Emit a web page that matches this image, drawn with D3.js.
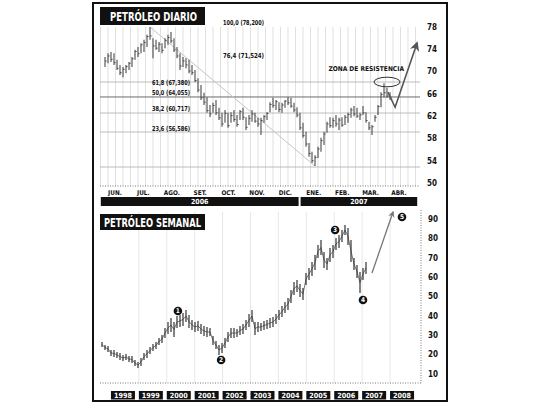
<!DOCTYPE html>
<html><head><meta charset="utf-8">
<script src="https://cdn.jsdelivr.net/npm/d3@7"></script>
<style>
body{margin:0;background:#fff;}
svg text{font-family:"Liberation Sans Narrow","DejaVu Sans Condensed","Arial Narrow",sans-serif;font-weight:bold;}
</style></head><body>
<svg id="c" width="540" height="405"></svg>
<script>
// ---------- DATA: daily chart (Petróleo diario) ----------
const months = ["JUN.","JUL.","AGO.","SET.","OCT.","NOV.","DIC.","ENE.","FEB.","MAR.","ABR."];
const dailyYears = ["2006","2007"];
const dailyYearFirstMonth = ["JUN.","ENE."];
const dailyYearLastMonth = ["DIC.","ABR."];
const dailyTicks = [50,54,58,62,66,70,74,78];
const dHigh = [72.6,73.3,73.5,73.3,72.1,71.2,70.8,71.2,71.7,72.6,73.9,74.4,75.1,75.7,76.6,78.0,76.0,75.7,75.3,75.1,
 76.0,76.6,77.1,76.0,74.4,73.3,72.6,72.4,72.1,71.2,70.3,68.8,67.6,66.2,65.4,64.0,64.4,64.9,63.5,62.6,
 63.1,62.6,62.7,63.1,62.2,63.1,63.5,61.8,62.2,63.1,62.6,61.7,61.7,62.2,62.7,64.5,65.3,64.9,64.5,64.4,
 64.9,65.4,65.3,64.4,63.6,62.6,60.8,59.2,57.2,55.6,55.0,56.5,58.1,59.2,61.0,61.8,61.7,62.2,61.7,61.8,
 62.2,62.6,63.5,63.8,63.5,62.6,63.8,62.7,61.0,60.4,62.2,64.0,66.3,67.9,67.1,66.3];
const dLow = [70.8,71.5,71.7,71.2,70.3,69.4,69.0,69.7,70.3,70.8,72.1,72.6,73.3,73.5,74.4,75.7,72.4,73.9,73.5,73.3,
 74.2,74.8,75.1,73.5,72.4,70.3,70.8,70.6,69.7,69.4,68.1,66.3,64.9,64.0,62.6,61.8,62.6,62.2,61.3,60.1,
 60.8,59.9,60.8,61.0,60.1,61.3,61.3,59.5,60.4,61.0,60.8,60.1,58.6,60.8,61.3,62.7,63.5,63.1,62.7,62.6,
 63.5,64.0,63.5,62.7,61.8,59.5,58.1,56.5,54.7,53.6,53.05,54.5,55.6,56.8,59.0,59.9,59.9,60.1,59.5,60.1,
 60.4,60.8,61.7,62.0,61.7,61.3,62.2,60.8,59.5,58.6,61.0,62.2,63.6,65.4,65.3,64.9];
const dClose = [71.9,72.8,72.2,71.6,70.6,69.8,70.4,70.9,71.5,72.3,73.6,73.2,74.8,75.2,76.3,76.4,74.6,74.2,74.9,73.8,
 75.6,76.1,75.5,73.9,72.8,71.0,71.9,71.2,70.1,69.8,68.4,66.7,65.3,64.5,63.0,62.4,63.9,62.6,61.7,60.6,
 62.5,60.3,62.1,61.4,60.5,62.8,61.8,60.0,61.6,62.4,61.1,60.6,61.2,61.9,62.5,64.1,63.9,64.6,63.2,64.0,
 64.7,64.4,63.8,63.1,62.2,59.9,58.5,57.0,55.3,54.0,54.6,56.1,57.6,58.8,60.6,60.3,61.2,60.6,61.3,60.4,
 61.8,62.3,63.1,62.4,62.0,62.2,62.6,61.2,59.9,60.1,61.8,63.7,65.9,66.2,65.6,65.4];
// Fibonacci retracement annotations
const fibPct = ["100,0","76,4","61,8","50,0","38,2","23,6"];
const fibPrice = ["78,200","71,524","67,380","64,055","60,717","56,586"];
const fibLabelLevel = [78.72,72.79,67.95,66.15,63.28,59.69];
const gridLevels = [68.13,65.44,62.56,59.15,52.87];
const mainGridLevel = 65.44;
// resistance annotation and projected arrow (bar index, price)
const resistIdx = 94, resistVal = 68.13;
const arrowTopIdx = [94.3,96.7,104];
const arrowTopVal = [66.3,63.6,75.1];

// ---------- DATA: weekly chart (Petróleo semanal) ----------
const years = ["1998","1999","2000","2001","2002","2003","2004","2005","2006","2007","2008"];
const weeklyTicks = [10,20,30,40,50,60,70,80,90];
const wHigh = [26.5,25.0,24.5,22.4,22.4,21.4,20.8,19.8,20.3,19.3,19.3,17.2,16.2,18.3,20.8,22.4,23.9,25.5,26.5,28.6,
 30.1,33.7,36.8,38.9,36.8,39.9,40.5,41.5,43.0,40.5,37.9,36.8,37.4,35.8,34.8,34.3,33.7,29.6,27.0,25.0,
 26.0,28.6,31.7,33.7,33.7,33.2,34.8,35.8,37.9,41.0,43.0,36.8,36.8,36.3,37.4,37.9,38.9,39.4,41.0,43.0,
 45.1,47.2,49.2,53.4,57.5,58.5,56.5,54.4,62.1,64.7,67.8,71.4,76.6,79.2,73.0,69.9,75.0,76.6,80.2,81.7,
 84.3,86.9,85.4,79.2,69.9,66.3,62.6,64.7,67.8];
const wLow = [23.9,22.4,21.4,19.3,18.8,18.3,17.2,16.7,17.2,16.2,15.7,14.1,13.1,14.1,17.2,18.3,20.3,21.9,22.9,25.0,
 26.0,28.6,30.6,31.7,29.1,33.7,34.3,34.8,36.8,33.7,32.7,31.7,32.2,30.6,29.6,29.1,29.6,25.0,22.9,19.8,
 20.8,23.4,26.5,28.6,28.6,29.1,30.1,30.6,32.7,34.3,36.8,30.1,31.7,32.2,32.7,33.2,33.7,34.3,35.8,37.9,
 39.4,41.5,43.0,46.6,50.8,52.3,49.7,48.2,55.9,58.5,60.6,63.7,69.9,71.4,64.7,63.7,67.8,69.9,74.0,75.0,
 78.1,81.7,76.6,67.8,63.7,59.5,51.8,58.5,61.6];
// Elliott wave labels (bar index, price)
const waveLabels = ["1","2","3","4","5"];
const waveIdx = [25.3,39.7,77.7,87,100];
const waveVal = [42.5,17.2,84.3,48.2,91.0];
const arrowBotIdx = [90,97];
const arrowBotVal = [62.1,93.6];

// ---------- DRAW ----------
const svg = d3.select("#c");
const defs = svg.append("defs");
defs.append("marker").attr("id","ah").attr("viewBox","0 0 10 10").attr("refX",8).attr("refY",5)
  .attr("markerWidth",6).attr("markerHeight",6).attr("orient","auto")
  .append("path").attr("d","M0,0 L10,5 L0,10 L3,5 z").attr("fill","#555");
defs.append("marker").attr("id","ah2").attr("viewBox","0 0 10 10").attr("refX",8).attr("refY",5)
  .attr("markerWidth",5).attr("markerHeight",5).attr("orient","auto")
  .append("path").attr("d","M0,0 L10,5 L0,10 L3,5 z").attr("fill","#777");

// frame
svg.append("rect").attr("x",93).attr("y",3).attr("width",354).attr("height",398)
  .attr("fill","#fff").attr("stroke","#111").attr("stroke-width",2);

// ===== top chart =====
const xT = d3.scaleLinear().domain([0, dHigh.length-1]).range([105, 390]);
const yT = d3.scaleLinear().domain([50, 78]).range([183, 27]);
const mx = d3.scalePoint().domain(months).range([115, 399]);
const gT = svg.append("g");

d3.range(-1.5, 106, 2.5).forEach(i => {
  gT.append("line").attr("x1",xT(i)).attr("x2",xT(i)).attr("y1",27).attr("y2",186)
    .attr("stroke","#d2d2d2").attr("stroke-width",0.7);
});
gridLevels.forEach(v => {
  gT.append("line").attr("x1",100).attr("x2",420).attr("y1",yT(v)).attr("y2",yT(v))
    .attr("stroke", v===mainGridLevel ? "#6a6a6a" : "#b4b4b4").attr("stroke-width", v===mainGridLevel?1:0.9);
});
gT.append("line").attr("x1",100).attr("x2",420).attr("y1",186).attr("y2",186)
  .attr("stroke","#777").attr("stroke-width",1).attr("stroke-dasharray","1,1.5");

// diagonal from peak to low
const iPeak = dHigh.indexOf(d3.max(dHigh)), iLow = dLow.indexOf(d3.min(dLow));
gT.append("line").attr("x1",xT(iPeak)).attr("y1",yT(dHigh[iPeak])).attr("x2",xT(iLow)).attr("y2",yT(dLow[iLow]))
  .attr("stroke","#c4c4c4").attr("stroke-width",1);

// OHLC-like bars
const bars = gT.append("g");
dHigh.forEach((h,i) => {
  bars.append("line").attr("x1",xT(i)).attr("x2",xT(i)).attr("y1",yT(h)).attr("y2",yT(dLow[i]))
    .attr("stroke","#4a4a4a").attr("stroke-width",1.1);
  bars.append("line").attr("x1",xT(i)).attr("x2",xT(i)+1.6).attr("y1",yT(dClose[i])).attr("y2",yT(dClose[i]))
    .attr("stroke","#4a4a4a").attr("stroke-width",1);
});

// Fibonacci labels
fibPct.forEach((p,k) => {
  const right = k < 2 ? 264 : 190;
  gT.append("text").attr("x",right).attr("y",yT(fibLabelLevel[k])).attr("dy","0.35em")
    .attr("text-anchor","end").attr("font-size",6.8).attr("fill","#111")
    .attr("textLength", k < 2 ? 41 : 38).attr("lengthAdjust","spacingAndGlyphs")
    .text(p + " (" + fibPrice[k] + ")");
});

// resistance zone
gT.append("ellipse").attr("cx",xT(resistIdx)).attr("cy",yT(resistVal)).attr("rx",13).attr("ry",4.8)
  .attr("fill","none").attr("stroke","#333").attr("stroke-width",1);
gT.append("text").attr("x",404).attr("y",yT(70.46)).attr("dy","0.35em").attr("text-anchor","end")
  .attr("font-size",6.6).attr("fill","#111").text("ZONA DE RESISTENCIA");
gT.append("path").attr("d", d3.line()(arrowTopIdx.map((d,k)=>[xT(d), yT(arrowTopVal[k])])))
  .attr("fill","none").attr("stroke","#555").attr("stroke-width",1.6).attr("marker-end","url(#ah)");

// y axis labels
dailyTicks.forEach(t => {
  gT.append("text").attr("x",432).attr("y",yT(t)).attr("dy","0.35em").attr("text-anchor","middle")
    .attr("font-size",8).attr("fill","#111").text(t);
});
// month labels
months.forEach(m => {
  gT.append("text").attr("x",mx(m)).attr("y",193).attr("dy","0.35em").attr("text-anchor","middle")
    .attr("font-size",6.4).attr("fill","#111").text(m);
});
// year bars
const st = mx.step();
dailyYears.forEach((y,k) => {
  const x0 = mx(dailyYearFirstMonth[k]) - st/2 + (k>0?1:0), x1 = mx(dailyYearLastMonth[k]) + st/2 - (k===0?1:0) + (k>0?4:0);
  gT.append("rect").attr("x",x0).attr("y",197).attr("width",x1-x0).attr("height",9).attr("fill","#111");
  gT.append("text").attr("x",(x0+x1)/2).attr("y",201.5).attr("dy","0.35em").attr("text-anchor","middle")
    .attr("font-size",7).attr("fill","#fff").text(y);
});
// title
svg.append("rect").attr("x",100).attr("y",7).attr("width",105).attr("height",18).attr("fill","#111");
svg.append("text").attr("x",110).attr("y",20.5).attr("font-size",12).attr("fill","#fff")
  .attr("textLength",87).attr("lengthAdjust","spacingAndGlyphs").text("PETRÓLEO DIARIO");

// ===== bottom chart =====
const xB = d3.scaleLinear().domain([0, wHigh.length-1]).range([102, 366]);
const yB = d3.scaleLinear().domain([10, 90]).range([374, 219]);
const yx = d3.scaleBand().domain(years).range([109, 416]).paddingInner(0.14).paddingOuter(0.07);
const gB = svg.append("g");

years.slice(1).forEach(y => {
  gB.append("line").attr("x1",yx(y)).attr("x2",yx(y)).attr("y1",212).attr("y2",383)
    .attr("stroke","#e2e2e2").attr("stroke-width",0.8);
});
gB.append("line").attr("x1",100).attr("x2",421).attr("y1",383).attr("y2",383)
  .attr("stroke","#777").attr("stroke-width",1).attr("stroke-dasharray","1,1.5");
gB.append("line").attr("x1",421).attr("x2",421).attr("y1",210).attr("y2",383)
  .attr("stroke","#777").attr("stroke-width",1).attr("stroke-dasharray","1,1.5");

gB.append("path").attr("d", d3.line()(wHigh.map((h,i)=>[xB(i), yB((h+wLow[i])/2)])))
  .attr("fill","none").attr("stroke","#555").attr("stroke-width",0.8);
wHigh.forEach((h,i) => {
  gB.append("line").attr("x1",xB(i)).attr("x2",xB(i)).attr("y1",yB(h)).attr("y2",yB(wLow[i]))
    .attr("stroke","#333").attr("stroke-width",1.2);
});

gB.append("path").attr("d", d3.line()(arrowBotIdx.map((d,k)=>[xB(d), yB(arrowBotVal[k])])))
  .attr("fill","none").attr("stroke","#777").attr("stroke-width",1.3).attr("marker-end","url(#ah2)");

waveLabels.forEach((w,k) => {
  gB.append("circle").attr("cx",xB(waveIdx[k])).attr("cy",yB(waveVal[k])).attr("r",4.3).attr("fill","#111");
  gB.append("text").attr("x",xB(waveIdx[k])).attr("y",yB(waveVal[k])).attr("dy","0.36em")
    .attr("text-anchor","middle").attr("font-size",6.5).attr("fill","#fff").text(w);
});

weeklyTicks.forEach(t => {
  gB.append("text").attr("x",433).attr("y",yB(t)).attr("dy","0.35em").attr("text-anchor","middle")
    .attr("font-size",8).attr("fill","#111").text(t);
});
years.forEach(y => {
  gB.append("rect").attr("x",yx(y)).attr("y",391).attr("width",yx.bandwidth()).attr("height",8.5).attr("fill","#111");
  gB.append("text").attr("x",yx(y)+yx.bandwidth()/2).attr("y",395.3).attr("dy","0.35em").attr("text-anchor","middle")
    .attr("font-size",7.2).attr("fill","#fff").text(y);
});
svg.append("rect").attr("x",100).attr("y",214).attr("width",105).attr("height",16).attr("fill","#111");
svg.append("text").attr("x",104).attr("y",226.5).attr("font-size",12).attr("fill","#fff")
  .attr("textLength",97).attr("lengthAdjust","spacingAndGlyphs").text("PETRÓLEO SEMANAL");
</script>
</body></html>
